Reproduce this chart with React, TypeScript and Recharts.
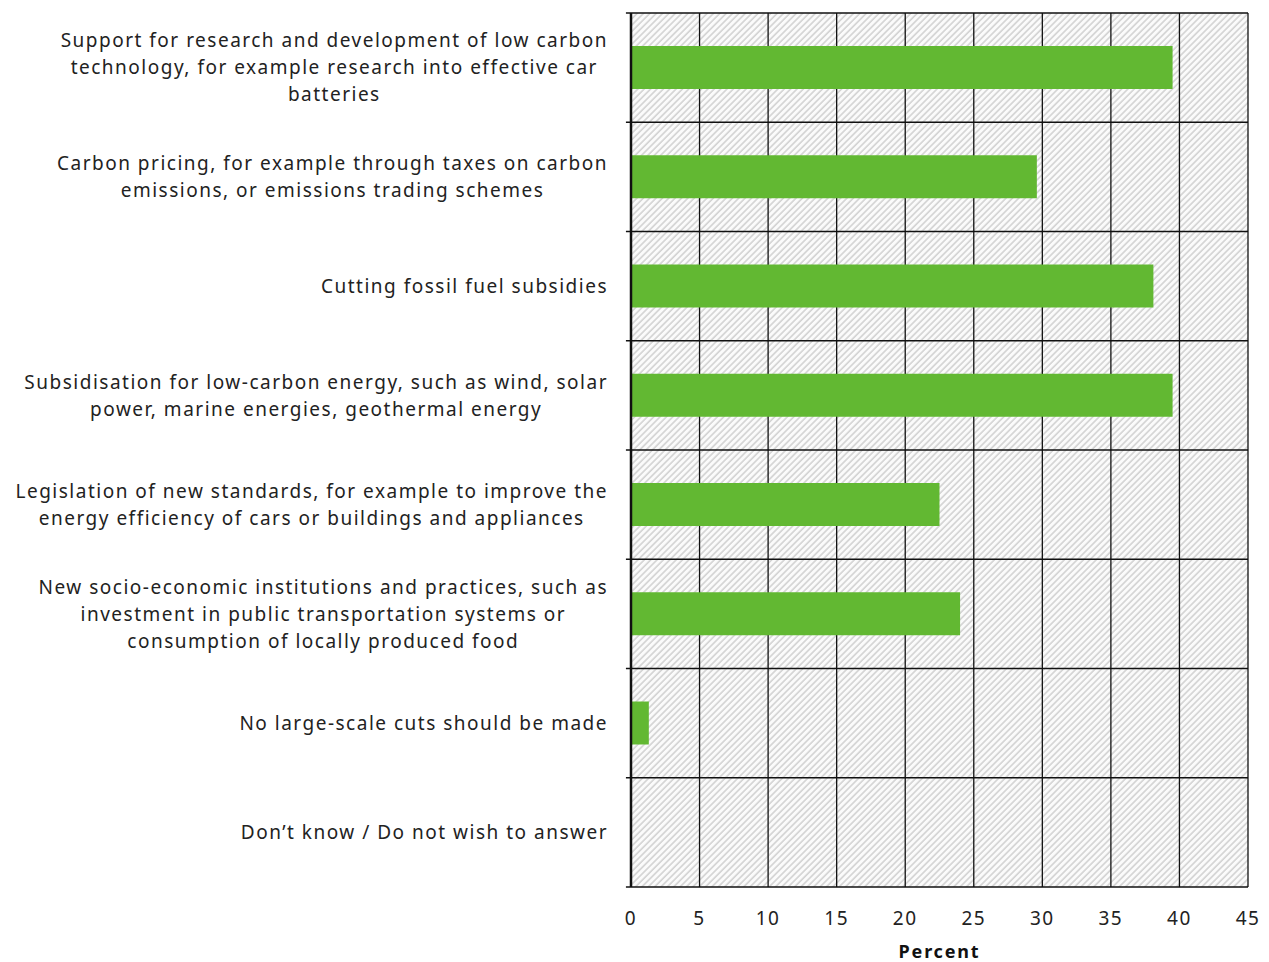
import { Bar, BarChart, CartesianGrid, ReferenceLine, XAxis, YAxis } from "recharts";

const categories = [
  "Support for research and development of low carbon\ntechnology, for example research into effective car\nbatteries",
  "Carbon pricing, for example through taxes on carbon\nemissions, or emissions trading schemes",
  "Cutting fossil fuel subsidies",
  "Subsidisation for low-carbon energy, such as wind, solar\npower, marine energies, geothermal energy",
  "Legislation of new standards, for example to improve the\nenergy efficiency of cars or buildings and appliances",
  "New socio-economic institutions and practices, such as\ninvestment in public transportation systems or\nconsumption of locally produced food",
  "No large-scale cuts should be made",
  "Don\u2019t know / Do not wish to answer",
];

const percents = [39.5, 29.6, 38.1, 39.5, 22.5, 24.0, 1.3, 0];

const xTicks = [0, 5, 10, 15, 20, 25, 30, 35, 40, 45];

// row boundaries on the hidden helper axis (0 = top edge, 8 = bottom edge)
const boundaries = [0, 1, 2, 3, 4, 5, 6, 7, 8];

const data = categories.map((name, i) => ({ name, value: percents[i], slot: i + 0.5 }));

const FONT = '"Noto Sans", sans-serif';
const FONT_SIZE = 19;
const SPACING = 1.5;

let ctx: CanvasRenderingContext2D | null = null;
function textWidth(s: string) {
  if (!ctx) ctx = document.createElement("canvas").getContext("2d");
  if (!ctx) return s.length * 10;
  ctx.font = `${FONT_SIZE}px ${FONT}`;
  return ctx.measureText(s).width + SPACING * s.length;
}

function CategoryTick(props: any) {
  const { x, y, payload } = props;
  const lines: string[] = String(payload.value).split("\n");
  const maxW = Math.max(...lines.map(textWidth));
  const cx = x - 15 - maxW / 2;
  const lh = 27;
  const top = y - ((lines.length - 1) * lh) / 2;
  return (
    <g>
      {lines.map((line, i) => (
        <text
          key={i}
          x={cx}
          y={top + i * lh}
          dy="0.35em"
          textAnchor="middle"
          fill="#222"
          fontFamily={FONT}
          fontSize={FONT_SIZE}
          letterSpacing={SPACING}
        >
          {line}
        </text>
      ))}
    </g>
  );
}

export default function App() {
  return (
    <div style={{ position: "absolute", left: 0, top: 0, background: "#fff" }}>
      <svg width={0} height={0} style={{ position: "absolute" }}>
        <defs>
          <pattern
            id="hatch"
            patternUnits="userSpaceOnUse"
            width={4.5}
            height={4.5}
            patternTransform="rotate(45)"
          >
            <rect width={4.5} height={4.5} fill="#fbfbfb" />
            <line x1={1} y1={0} x2={1} y2={4.5} stroke="#d2d2d2" strokeWidth={1.6} />
          </pattern>
        </defs>
      </svg>
      <BarChart
        width={1269}
        height={962}
        data={data}
        layout="vertical"
        margin={{ top: 13, right: 21, bottom: 0, left: 0 }}
      >
        <CartesianGrid
          horizontal={false}
          stroke="#111"
          strokeWidth={1.3}
          fill="url(#hatch)"
          fillOpacity={1}
        />
        <XAxis
          type="number"
          domain={[0, 45]}
          ticks={xTicks}
          axisLine={false}
          tickLine={false}
          height={75}
          tick={{ fill: "#222", fontSize: FONT_SIZE, fontFamily: FONT, letterSpacing: SPACING }}
          tickMargin={19}
          label={{
            value: "Percent",
            position: "insideBottom",
            offset: 4,
            fill: "#111",
            fontSize: 18,
            fontWeight: "bold",
            fontFamily: FONT,
            letterSpacing: 1.8,
          }}
        />
        <YAxis
          type="category"
          dataKey="name"
          width={631}
          tickLine={false}
          axisLine={{ stroke: "#111", strokeWidth: 2.5 }}
          tick={<CategoryTick />}
          interval={0}
        />
        <YAxis
          yAxisId="b"
          type="number"
          dataKey="slot"
          domain={[0, 8]}
          allowDataOverflow
          reversed
          hide
        />
        {boundaries.map((b) => (
          <ReferenceLine
            key={b}
            yAxisId="b"
            ifOverflow="visible"
            segment={[
              { x: -0.37, y: b },
              { x: 45, y: b },
            ]}
            stroke="#111"
            strokeWidth={1.5}
          />
        ))}
        <Bar dataKey="value" fill="#62b832" barSize={43} isAnimationActive={false} />
      </BarChart>
    </div>
  );
}
